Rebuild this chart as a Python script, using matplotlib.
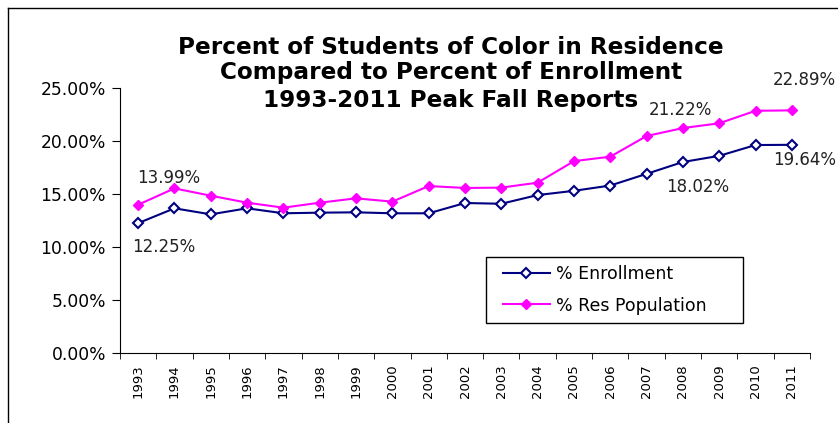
import matplotlib
matplotlib.use("Agg")
import matplotlib.pyplot as plt
from matplotlib.ticker import FuncFormatter, FixedLocator
from matplotlib.lines import Line2D
from matplotlib.patches import Rectangle

plt.rcParams['font.family'] = ['DejaVu Sans']

years = [str(y) for y in range(1993, 2012)]
enrollment = [12.25, 13.65, 13.08, 13.65, 13.18, 13.24, 13.27, 13.18, 13.18, 14.15,
              14.08, 14.90, 15.30, 15.80, 16.90, 18.02, 18.60, 19.62, 19.64]
res_pop = [13.99, 15.53, 14.84, 14.18, 13.71, 14.18, 14.59, 14.28, 15.75, 15.57,
           15.60, 16.07, 18.10, 18.52, 20.47, 21.22, 21.67, 22.85, 22.89]
yticks = [0, 5, 10, 15, 20, 25]
title_lines = ["Percent of Students of Color in Residence",
               "Compared to Percent of Enrollment",
               "1993-2011 Peak Fall Reports"]

fig = plt.figure(figsize=(8.38, 4.23), dpi=100)
# chart area border (only top and left visible in the crop)
fig.add_artist(Line2D([8/838, 1], [1-8/423, 1-8/423], color='black', lw=1))
fig.add_artist(Line2D([8/838, 8/838], [0, 1-8/423], color='black', lw=1))

ax = fig.add_axes([120/838, 1-353/423, 690/838, 265/423])
x = list(range(len(years)))
ax.plot(x, enrollment, color='#000080', lw=1.5, marker='D', ms=5.5,
        mfc='white', mec='#000080', mew=1.5, label='% Enrollment')
ax.plot(x, res_pop, color='#FF00FF', lw=1.5, marker='D', ms=5.5,
        mfc='#FF00FF', mec='#FF00FF', label='% Res Population')

ax.set_xlim(-0.5, len(years) - 0.5)
ax.set_ylim(0, 25)
ax.set_yticks(yticks)
ax.yaxis.set_major_formatter(FuncFormatter(lambda v, p: f"{v:.2f}%"))
ax.set_xticks(x)
ax.set_xticklabels(years, rotation=90, fontsize=9.5)
ax.tick_params(axis='x', length=0, pad=8)
ax.xaxis.set_minor_locator(FixedLocator([i - 0.5 for i in range(len(years) + 1)]))
ax.tick_params(axis='x', which='minor', length=4, direction='out')
ax.tick_params(axis='y', labelsize=12.3, length=6, direction='out', pad=4)
for s in ['top', 'right']:
    ax.spines[s].set_visible(False)

# data labels
lab = dict(fontsize=12, color='#222222', textcoords='offset points', va='center')
ax.annotate(f"{res_pop[0]:.2f}%", (0, res_pop[0]), xytext=(-1, 19), ha='left', **lab)
ax.annotate(f"{enrollment[0]:.2f}%", (0, enrollment[0]), xytext=(-4, -17), ha='left', **lab)
ax.annotate(f"{res_pop[15]:.2f}%", (15, res_pop[15]), xytext=(-2, 13), ha='center', **lab)
ax.annotate(f"{enrollment[15]:.2f}%", (15, enrollment[15]), xytext=(11, -18), ha='center', **lab)
ax.annotate(f"{res_pop[18]:.2f}%", (18, res_pop[18]), xytext=(9, 22), ha='center', **lab)
ax.annotate(f"{enrollment[18]:.2f}%", (18, enrollment[18]), xytext=(9, -11), ha='center', **lab)

# legend box drawn separately so the handles can sit inset like the original
ax.add_patch(Rectangle(((486-120)/690, (353-323)/265), (743-486)/690, (323-257)/265,
                       transform=ax.transAxes, fill=True, facecolor='white',
                       edgecolor='black', lw=1, zorder=4))
leg = ax.legend(loc='center left', bbox_to_anchor=((503-120)/690, (353-290)/265),
                fontsize=12.5, frameon=False, borderaxespad=0, borderpad=0,
                handlelength=2.7, handletextpad=0.35, labelspacing=0.75)
leg.set_zorder(5)

title_y = [47, 73, 100]
for line, yy in zip(title_lines, title_y):
    fig.text(451/838, 1-yy/423, line, ha='center', va='center',
             fontsize=16.7, fontweight='bold')

fig.savefig("out.png", dpi=100)
